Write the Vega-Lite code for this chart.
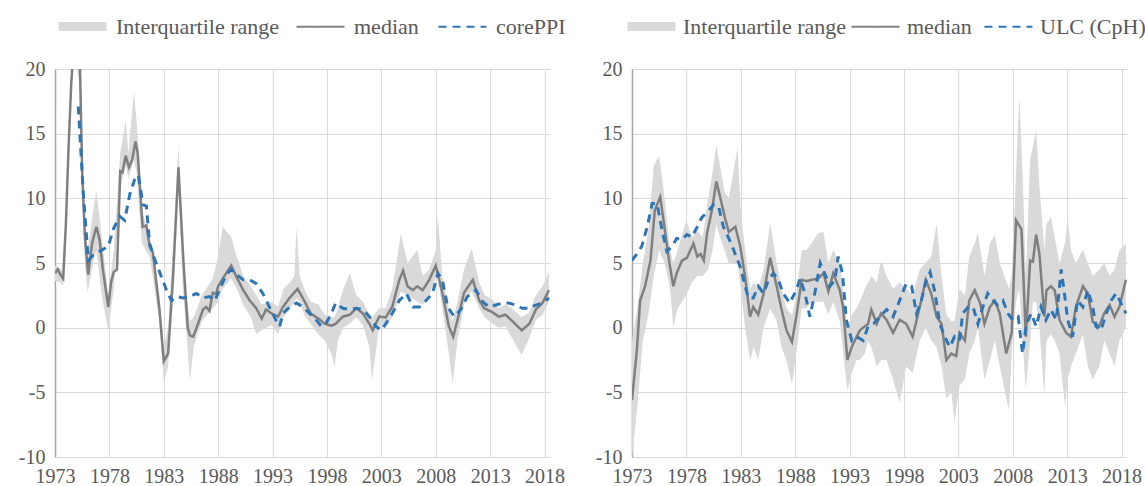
{
  "$schema": "https://vega.github.io/schema/vega-lite/v6.json",
  "padding": {"left": 18, "top": 1, "right": 5, "bottom": 0},
  "config": {
    "font": "Liberation Serif",
    "view": {"stroke": null},
    "axis": {"grid": true, "gridColor": "#d9d9d9", "gridWidth": 1, "labelFont": "Liberation Serif", "labelFontSize": 20, "labelColor": "#595959", "ticks": false, "domain": false, "title": null, "labelFlush": false},
    "legend": {"orient": "none", "direction": "horizontal", "symbolType": "stroke", "symbolStrokeWidth": 2.2, "labelFont": "Liberation Serif", "labelFontSize": 22, "labelColor": "#595959", "labelLimit": 0, "title": null, "symbolSize": 2300, "columnPadding": 15, "labelOffset": 8}
  },
  "resolve": {"scale": {"fill": "independent", "stroke": "independent", "strokeDash": "independent"}, "legend": {"fill": "independent", "stroke": "independent", "strokeDash": "independent"}},
  "spacing": 29,
  "hconcat": [
    {
      "width": 495,
      "height": 388,
      "layer": [
        {
          "data": {"values": [
            {"t":1973.0,"lo":3.6,"hi":4.8},{"t":1973.5,"lo":3.5,"hi":4.6},{"t":1973.75,"lo":3.2,"hi":4.3},{"t":1974.0,"lo":7,"hi":9},{"t":1974.5,"lo":18,"hi":20},{"t":1974.75,"lo":21,"hi":23},{"t":1975.25,"lo":19,"hi":22},{"t":1975.5,"lo":10,"hi":13},{"t":1975.75,"lo":5,"hi":8},{"t":1976.0,"lo":2.7,"hi":6},{"t":1976.5,"lo":5,"hi":9},{"t":1976.8,"lo":6,"hi":10.6},{"t":1977.3,"lo":2.5,"hi":7},{"t":1977.9,"lo":-0.3,"hi":2.5},{"t":1978.4,"lo":3,"hi":6},{"t":1979.0,"lo":11,"hi":13.5},{"t":1979.5,"lo":12.5,"hi":16},{"t":1979.75,"lo":11.5,"hi":13.5},{"t":1980.25,"lo":13,"hi":18.2},{"t":1980.5,"lo":12,"hi":16},{"t":1980.75,"lo":9,"hi":13},{"t":1981.0,"lo":6.5,"hi":9},{"t":1981.7,"lo":5.5,"hi":7},{"t":1982.6,"lo":0.5,"hi":2.5},{"t":1983.0,"lo":-4.2,"hi":-1.5},{"t":1983.4,"lo":-3,"hi":0},{"t":1983.75,"lo":2,"hi":5},{"t":1984.35,"lo":11,"hi":14.1},{"t":1984.75,"lo":3,"hi":6},{"t":1985.0,"lo":0.5,"hi":3},{"t":1985.4,"lo":-4.1,"hi":0.5},{"t":1985.75,"lo":-1.5,"hi":0.8},{"t":1986.5,"lo":0.5,"hi":2.5},{"t":1987.5,"lo":1.5,"hi":3.8},{"t":1988.0,"lo":2,"hi":5.5},{"t":1988.4,"lo":3,"hi":7.8},{"t":1989.2,"lo":3.8,"hi":7},{"t":1989.7,"lo":3,"hi":5.5},{"t":1990.3,"lo":1.8,"hi":4},{"t":1991.0,"lo":0.8,"hi":3.2},{"t":1991.5,"lo":-0.5,"hi":2.5},{"t":1992.0,"lo":-0.2,"hi":1.8},{"t":1992.9,"lo":0.2,"hi":2},{"t":1993.5,"lo":-0.5,"hi":1.6},{"t":1994.0,"lo":0.8,"hi":3},{"t":1994.6,"lo":1.5,"hi":3.5},{"t":1995.0,"lo":2,"hi":4},{"t":1995.2,"lo":2.3,"hi":7.8},{"t":1995.5,"lo":2,"hi":4},{"t":1995.9,"lo":1,"hi":3},{"t":1996.5,"lo":0.3,"hi":2},{"t":1997.2,"lo":-0.5,"hi":1.8},{"t":1997.8,"lo":-1,"hi":1},{"t":1998.4,"lo":-2,"hi":0.8},{"t":1998.7,"lo":-3,"hi":0.8},{"t":1999.0,"lo":-1,"hi":1.5},{"t":1999.5,"lo":0,"hi":3},{"t":2000.1,"lo":0.3,"hi":4.2},{"t":2000.7,"lo":0.8,"hi":2.5},{"t":2001.3,"lo":0.2,"hi":2},{"t":2001.9,"lo":-1.5,"hi":1},{"t":2002.15,"lo":-4,"hi":0.8},{"t":2002.8,"lo":0.1,"hi":1.5},{"t":2003.4,"lo":0,"hi":1.5},{"t":2004.0,"lo":0.8,"hi":3},{"t":2004.8,"lo":2.8,"hi":7.3},{"t":2005.4,"lo":2.5,"hi":5},{"t":2006.3,"lo":2,"hi":6},{"t":2006.8,"lo":1.8,"hi":4},{"t":2007.4,"lo":2.5,"hi":4.5},{"t":2008.0,"lo":3.8,"hi":6},{"t":2008.2,"lo":3.8,"hi":8.6},{"t":2008.6,"lo":1.5,"hi":4},{"t":2009.2,"lo":-2,"hi":1.5},{"t":2009.55,"lo":-4.3,"hi":0.5},{"t":2010.0,"lo":-1,"hi":2},{"t":2010.6,"lo":1.8,"hi":4.5},{"t":2011.3,"lo":2.8,"hi":6.1},{"t":2012.0,"lo":1.5,"hi":3.5},{"t":2012.5,"lo":0.8,"hi":2.5},{"t":2013.2,"lo":0.3,"hi":2.2},{"t":2013.8,"lo":0,"hi":1.5},{"t":2014.4,"lo":0.1,"hi":1.8},{"t":2015.0,"lo":-0.8,"hi":1.5},{"t":2015.9,"lo":-2.1,"hi":0.8},{"t":2016.6,"lo":-0.8,"hi":1.2},{"t":2017.2,"lo":0.6,"hi":2.5},{"t":2017.8,"lo":1,"hi":3.2},{"t":2018.4,"lo":2,"hi":4.3}
          ]},
          "mark": {"type": "area", "clip": true},
          "encoding": {
            "x": {"field": "t", "type": "quantitative", "scale": {"domain": [1973, 2018.5], "nice": false, "zero": false}, "axis": {"values": [1973,1978,1983,1988,1993,1998,2003,2008,2013,2018], "format": "d", "labelPadding": 9}},
            "y": {"field": "lo", "type": "quantitative", "scale": {"domain": [-10, 20], "nice": false}, "axis": {"values": [-10,-5,0,5,10,15,20], "labelExpr": "'' + datum.value", "labelPadding": 10, "domain": true, "domainColor": "#a6a6a6", "domainWidth": 1.5}},
            "y2": {"field": "hi"},
            "fill": {"datum": "Interquartile range", "scale": {"domain": ["Interquartile range"], "range": ["#d9d9d9"]}, "legend": {"legendX": 2, "legendY": -68, "symbolType": "M-1,-0.19H1V0.19H-1Z"}}
          }
        },
        {
          "data": {"values": [
            {"t":1973.0,"v":4.2},{"t":1973.25,"v":4.5},{"t":1973.5,"v":4.1},{"t":1973.75,"v":3.8},{"t":1974.0,"v":8},{"t":1974.25,"v":14},{"t":1974.5,"v":19},{"t":1974.75,"v":22},{"t":1975.25,"v":22},{"t":1975.5,"v":12},{"t":1975.75,"v":7},{"t":1976.05,"v":4.1},{"t":1976.4,"v":6.5},{"t":1976.8,"v":7.8},{"t":1977.1,"v":6.8},{"t":1977.4,"v":4.5},{"t":1977.9,"v":1.6},{"t":1978.15,"v":3.5},{"t":1978.4,"v":4.3},{"t":1978.7,"v":4.5},{"t":1979.0,"v":12.1},{"t":1979.2,"v":12.0},{"t":1979.5,"v":13.3},{"t":1979.8,"v":12.4},{"t":1980.1,"v":13.0},{"t":1980.4,"v":14.4},{"t":1980.6,"v":13.5},{"t":1981.05,"v":7.8},{"t":1981.4,"v":7.9},{"t":1981.7,"v":6.3},{"t":1982.0,"v":5.8},{"t":1982.6,"v":1.4},{"t":1983.0,"v":-2.6},{"t":1983.4,"v":-2.0},{"t":1983.85,"v":3.9},{"t":1984.35,"v":12.4},{"t":1984.8,"v":5.2},{"t":1985.2,"v":0},{"t":1985.4,"v":-0.6},{"t":1985.7,"v":-0.7},{"t":1986.15,"v":0.3},{"t":1986.6,"v":1.4},{"t":1986.9,"v":1.6},{"t":1987.2,"v":1.3},{"t":1987.5,"v":2.7},{"t":1987.8,"v":2.6},{"t":1988.0,"v":3.2},{"t":1988.5,"v":3.9},{"t":1989.2,"v":4.8},{"t":1989.7,"v":3.9},{"t":1990.3,"v":2.9},{"t":1990.9,"v":2.1},{"t":1991.5,"v":1.5},{"t":1992.0,"v":0.7},{"t":1992.4,"v":1.4},{"t":1992.9,"v":1.1},{"t":1993.5,"v":0.85},{"t":1993.95,"v":1.6},{"t":1994.56,"v":2.3},{"t":1995.3,"v":3.0},{"t":1995.9,"v":2.1},{"t":1996.5,"v":1.1},{"t":1997.2,"v":0.7},{"t":1997.8,"v":0.3},{"t":1998.4,"v":0.15},{"t":1998.8,"v":0.3},{"t":1999.45,"v":0.85},{"t":2000.1,"v":1.0},{"t":2000.7,"v":1.5},{"t":2001.3,"v":1.1},{"t":2001.9,"v":0.3},{"t":2002.2,"v":-0.2},{"t":2002.8,"v":0.85},{"t":2003.4,"v":0.8},{"t":2004.0,"v":1.6},{"t":2004.65,"v":3.7},{"t":2005.0,"v":4.4},{"t":2005.4,"v":3.2},{"t":2005.9,"v":2.9},{"t":2006.3,"v":3.2},{"t":2006.8,"v":2.9},{"t":2007.4,"v":3.7},{"t":2008.0,"v":4.8},{"t":2008.6,"v":2.7},{"t":2009.2,"v":0.1},{"t":2009.6,"v":-0.7},{"t":2010.0,"v":0.6},{"t":2010.6,"v":2.7},{"t":2011.4,"v":3.7},{"t":2012.0,"v":2.1},{"t":2012.45,"v":1.5},{"t":2013.2,"v":1.2},{"t":2013.8,"v":0.85},{"t":2014.4,"v":1.0},{"t":2015.05,"v":0.5},{"t":2015.9,"v":-0.2},{"t":2016.6,"v":0.3},{"t":2017.2,"v":1.4},{"t":2017.8,"v":1.9},{"t":2018.4,"v":2.9}
          ]},
          "mark": {"type": "line", "clip": true, "strokeWidth": 2.5},
          "encoding": {
            "x": {"field": "t", "type": "quantitative"},
            "y": {"field": "v", "type": "quantitative"},
            "stroke": {"datum": "median", "scale": {"domain": ["median", "corePPI"], "range": ["#7f7f7f", "#2e75b6"]}, "legend": {"legendX": 240, "legendY": -68}},
            "strokeDash": {"datum": "median", "scale": {"domain": ["median", "corePPI"], "range": [[1,0],[8,6]]}, "legend": {"legendX": 240, "legendY": -68}}
          }
        },
        {
          "data": {"values": [
            {"t":1975.14,"v":17.1},{"t":1975.6,"v":10.4},{"t":1976.06,"v":5.2},{"t":1976.5,"v":5.6},{"t":1977.1,"v":5.9},{"t":1977.9,"v":6.3},{"t":1978.35,"v":7.6},{"t":1978.96,"v":8.6},{"t":1979.4,"v":8.3},{"t":1979.9,"v":10.4},{"t":1980.3,"v":11.4},{"t":1980.65,"v":11.8},{"t":1981.1,"v":9.5},{"t":1981.4,"v":9.4},{"t":1981.7,"v":6.5},{"t":1982.2,"v":5.2},{"t":1982.8,"v":3.9},{"t":1983.25,"v":2.9},{"t":1983.7,"v":2.1},{"t":1984.2,"v":2.4},{"t":1984.8,"v":2.3},{"t":1985.4,"v":2.4},{"t":1986.0,"v":2.65},{"t":1986.6,"v":2.3},{"t":1987.2,"v":2.4},{"t":1987.7,"v":2.1},{"t":1988.1,"v":2.9},{"t":1988.75,"v":4.1},{"t":1989.2,"v":4.5},{"t":1989.7,"v":4.1},{"t":1990.3,"v":3.7},{"t":1990.9,"v":3.7},{"t":1991.5,"v":3.4},{"t":1992.1,"v":2.65},{"t":1992.7,"v":1.6},{"t":1993.3,"v":0.6},{"t":1993.65,"v":0.1},{"t":1993.95,"v":1.1},{"t":1994.56,"v":1.6},{"t":1995.2,"v":1.9},{"t":1995.8,"v":1.6},{"t":1996.4,"v":1.1},{"t":1997.0,"v":0.6},{"t":1997.5,"v":0.1},{"t":1997.9,"v":0.3},{"t":1998.4,"v":1.1},{"t":1998.8,"v":1.9},{"t":1999.45,"v":1.5},{"t":2000.1,"v":1.4},{"t":2000.7,"v":1.5},{"t":2001.3,"v":1.4},{"t":2001.9,"v":0.85},{"t":2002.5,"v":0.1},{"t":2003.0,"v":-0.2},{"t":2003.4,"v":0.3},{"t":2004.0,"v":1.1},{"t":2004.65,"v":2.1},{"t":2005.3,"v":2.65},{"t":2005.9,"v":1.6},{"t":2006.5,"v":1.6},{"t":2007.1,"v":2.1},{"t":2007.7,"v":2.65},{"t":2008.2,"v":4.2},{"t":2008.6,"v":3.7},{"t":2009.1,"v":1.6},{"t":2009.7,"v":0.85},{"t":2010.3,"v":1.4},{"t":2010.9,"v":2.4},{"t":2011.7,"v":2.9},{"t":2012.3,"v":2.0},{"t":2012.9,"v":1.6},{"t":2013.5,"v":1.75},{"t":2014.1,"v":1.9},{"t":2014.7,"v":1.9},{"t":2015.35,"v":1.75},{"t":2015.95,"v":1.5},{"t":2016.6,"v":1.5},{"t":2017.2,"v":1.75},{"t":2017.8,"v":1.9},{"t":2018.4,"v":2.3}
          ]},
          "mark": {"type": "line", "clip": true, "strokeWidth": 3},
          "encoding": {
            "x": {"field": "t", "type": "quantitative"},
            "y": {"field": "v", "type": "quantitative"},
            "stroke": {"datum": "corePPI"},
            "strokeDash": {"datum": "corePPI"}
          }
        },
        {
          "mark": {"type": "rule", "color": "#8c8c8c", "strokeWidth": 1.5},
          "encoding": {"y": {"datum": 0}}
        }
      ]
    },
    {
      "width": 495,
      "height": 388,
      "layer": [
        {
          "data": {"values": [
            {"t":1973.0,"lo":-10,"hi":-1},{"t":1973.5,"lo":-6,"hi":1.5},{"t":1974.0,"lo":-1,"hi":5},{"t":1974.5,"lo":1,"hi":7.5},{"t":1975.0,"lo":4,"hi":12.5},{"t":1975.5,"lo":6,"hi":13.3},{"t":1976.0,"lo":5,"hi":10},{"t":1976.5,"lo":3,"hi":6},{"t":1976.8,"lo":0,"hi":5},{"t":1977.2,"lo":1.5,"hi":6},{"t":1978.0,"lo":2.5,"hi":8.3},{"t":1978.5,"lo":3.5,"hi":7},{"t":1979.0,"lo":4,"hi":7.5},{"t":1979.5,"lo":4,"hi":7},{"t":1980.0,"lo":4.5,"hi":10},{"t":1980.4,"lo":6,"hi":12},{"t":1980.75,"lo":8,"hi":14.1},{"t":1981.1,"lo":7,"hi":12.5},{"t":1981.5,"lo":6,"hi":10.5},{"t":1981.9,"lo":5,"hi":10},{"t":1982.7,"lo":5,"hi":13.9},{"t":1983.0,"lo":3,"hi":9},{"t":1983.4,"lo":0,"hi":6},{"t":1983.85,"lo":-2.5,"hi":3},{"t":1984.2,"lo":-1.5,"hi":3.5},{"t":1984.6,"lo":-2.5,"hi":3},{"t":1985.1,"lo":0,"hi":4.5},{"t":1985.7,"lo":1.5,"hi":8.1},{"t":1986.3,"lo":0.5,"hi":5},{"t":1986.75,"lo":-1.5,"hi":3},{"t":1987.2,"lo":-2.5,"hi":1.5},{"t":1987.7,"lo":-4.4,"hi":1},{"t":1988.1,"lo":-2,"hi":2.5},{"t":1988.6,"lo":1.5,"hi":6},{"t":1989.05,"lo":1.5,"hi":6},{"t":1989.5,"lo":2,"hi":6.5},{"t":1990.1,"lo":2,"hi":7.3},{"t":1990.6,"lo":2,"hi":7.4},{"t":1991.05,"lo":1,"hi":5},{"t":1991.5,"lo":2,"hi":6},{"t":1992.1,"lo":0.5,"hi":5},{"t":1992.8,"lo":-4.9,"hi":0},{"t":1993.2,"lo":-3.5,"hi":1},{"t":1993.65,"lo":-2.5,"hi":1.5},{"t":1993.95,"lo":-2.5,"hi":2},{"t":1994.4,"lo":-2,"hi":3},{"t":1994.7,"lo":-1,"hi":3.5},{"t":1995.0,"lo":-1.5,"hi":4},{"t":1995.5,"lo":-3,"hi":3.5},{"t":1995.9,"lo":-2.5,"hi":5.2},{"t":1996.4,"lo":-2.5,"hi":4},{"t":1997.0,"lo":-4,"hi":3},{"t":1997.6,"lo":-5.8,"hi":3.5},{"t":1998.2,"lo":-3,"hi":3},{"t":1998.8,"lo":-3.5,"hi":2.5},{"t":1999.45,"lo":-1,"hi":4.5},{"t":2000.0,"lo":0,"hi":5},{"t":2000.5,"lo":-1,"hi":5.5},{"t":2001.0,"lo":-1.5,"hi":8},{"t":2001.45,"lo":-3,"hi":4},{"t":2001.9,"lo":-5.5,"hi":1},{"t":2002.35,"lo":-5,"hi":0.5},{"t":2002.65,"lo":-7.3,"hi":0.5},{"t":2003.1,"lo":-4.5,"hi":3},{"t":2003.6,"lo":-4,"hi":2.5},{"t":2004.0,"lo":-2,"hi":5.5},{"t":2004.5,"lo":-1,"hi":6.5},{"t":2004.8,"lo":0,"hi":7.3},{"t":2005.4,"lo":-4,"hi":4},{"t":2005.9,"lo":-2.5,"hi":6.5},{"t":2006.35,"lo":-1,"hi":7.2},{"t":2006.8,"lo":-3,"hi":5},{"t":2007.65,"lo":-6.4,"hi":3},{"t":2007.9,"lo":-2,"hi":4},{"t":2008.3,"lo":2,"hi":12},{"t":2008.6,"lo":3,"hi":17.9},{"t":2008.9,"lo":-1,"hi":12},{"t":2009.2,"lo":-4.8,"hi":4},{"t":2009.6,"lo":-1,"hi":13},{"t":2009.85,"lo":2,"hi":14},{"t":2010.15,"lo":2,"hi":15.3},{"t":2010.45,"lo":0,"hi":11},{"t":2010.9,"lo":-5.3,"hi":6},{"t":2011.1,"lo":-1,"hi":8},{"t":2011.5,"lo":-0.5,"hi":8.6},{"t":2011.85,"lo":-1,"hi":7},{"t":2012.3,"lo":-2,"hi":5},{"t":2012.8,"lo":-6.1,"hi":6.5},{"t":2013.05,"lo":-4,"hi":8.6},{"t":2013.35,"lo":-3,"hi":6},{"t":2013.8,"lo":-2,"hi":5},{"t":2014.45,"lo":-0.5,"hi":6},{"t":2014.9,"lo":-3,"hi":5},{"t":2015.35,"lo":-4,"hi":4},{"t":2015.95,"lo":-3,"hi":4.5},{"t":2016.4,"lo":-1,"hi":5},{"t":2016.9,"lo":-2,"hi":4},{"t":2017.35,"lo":-3,"hi":4.5},{"t":2017.8,"lo":-1,"hi":6},{"t":2018.4,"lo":0,"hi":6.5}
          ]},
          "mark": {"type": "area", "clip": true},
          "encoding": {
            "x": {"field": "t", "type": "quantitative", "scale": {"domain": [1973, 2018.5], "nice": false, "zero": false}, "axis": {"values": [1973,1978,1983,1988,1993,1998,2003,2008,2013,2018], "format": "d", "labelPadding": 9}},
            "y": {"field": "lo", "type": "quantitative", "scale": {"domain": [-10, 20], "nice": false}, "axis": {"values": [-10,-5,0,5,10,15,20], "labelExpr": "'' + datum.value", "labelPadding": 10, "domain": true, "domainColor": "#a6a6a6", "domainWidth": 1.5}},
            "y2": {"field": "hi"},
            "fill": {"datum": "Interquartile range", "scale": {"domain": ["Interquartile range"], "range": ["#d9d9d9"]}, "legend": {"legendX": -6, "legendY": -68, "labelOffset": 6, "symbolType": "M-1,-0.19H1V0.19H-1Z"}}
          }
        },
        {
          "data": {"values": [
            {"t":1973.0,"v":-5.6},{"t":1973.45,"v":-1.7},{"t":1973.75,"v":2.1},{"t":1974.2,"v":3.2},{"t":1974.7,"v":5.2},{"t":1975.1,"v":9.1},{"t":1975.6,"v":10.1},{"t":1976.06,"v":7.3},{"t":1976.4,"v":5.2},{"t":1976.8,"v":3.2},{"t":1977.1,"v":4.2},{"t":1977.6,"v":5.2},{"t":1978.05,"v":5.4},{"t":1978.65,"v":6.5},{"t":1979.0,"v":5.5},{"t":1979.3,"v":5.7},{"t":1979.6,"v":5.2},{"t":1979.9,"v":7.3},{"t":1980.35,"v":9.1},{"t":1980.75,"v":11.3},{"t":1981.1,"v":10.1},{"t":1981.6,"v":8.3},{"t":1981.9,"v":7.4},{"t":1982.5,"v":7.8},{"t":1982.95,"v":6.3},{"t":1983.4,"v":3.9},{"t":1983.85,"v":0.85},{"t":1984.15,"v":1.6},{"t":1984.6,"v":1.0},{"t":1985.1,"v":2.65},{"t":1985.7,"v":5.4},{"t":1986.3,"v":3.2},{"t":1986.75,"v":1.4},{"t":1987.2,"v":-0.2},{"t":1987.7,"v":-1.1},{"t":1988.1,"v":0.85},{"t":1988.6,"v":3.7},{"t":1989.05,"v":3.6},{"t":1989.5,"v":3.7},{"t":1990.1,"v":3.8},{"t":1990.6,"v":4.2},{"t":1991.05,"v":2.8},{"t":1991.5,"v":4.2},{"t":1992.1,"v":2.9},{"t":1992.4,"v":1.6},{"t":1992.8,"v":-2.5},{"t":1993.2,"v":-1.5},{"t":1993.65,"v":-0.7},{"t":1993.95,"v":-0.2},{"t":1994.4,"v":0.1},{"t":1994.7,"v":0.3},{"t":1995.0,"v":1.4},{"t":1995.5,"v":0.3},{"t":1995.9,"v":1.1},{"t":1996.4,"v":0.6},{"t":1997.0,"v":-0.4},{"t":1997.6,"v":0.6},{"t":1998.2,"v":0.3},{"t":1998.8,"v":-0.7},{"t":1999.45,"v":1.6},{"t":2000.0,"v":3.7},{"t":2000.5,"v":2.65},{"t":2001.0,"v":0.85},{"t":2001.45,"v":0.3},{"t":2001.9,"v":-2.5},{"t":2002.35,"v":-2.0},{"t":2002.8,"v":-2.2},{"t":2003.1,"v":-0.4},{"t":2003.6,"v":-1.0},{"t":2004.0,"v":2.1},{"t":2004.5,"v":2.9},{"t":2005.0,"v":1.9},{"t":2005.4,"v":0.3},{"t":2005.9,"v":1.6},{"t":2006.35,"v":2.1},{"t":2006.8,"v":1.1},{"t":2007.4,"v":-2.0},{"t":2007.9,"v":-0.4},{"t":2008.3,"v":8.3},{"t":2008.8,"v":7.6},{"t":2009.2,"v":-0.7},{"t":2009.6,"v":5.2},{"t":2009.85,"v":5.1},{"t":2010.15,"v":7.2},{"t":2010.45,"v":5.7},{"t":2010.9,"v":0.85},{"t":2011.1,"v":2.9},{"t":2011.5,"v":3.2},{"t":2011.85,"v":2.9},{"t":2012.3,"v":0.6},{"t":2012.9,"v":-0.4},{"t":2013.35,"v":-0.7},{"t":2013.8,"v":1.6},{"t":2014.45,"v":3.2},{"t":2014.9,"v":2.65},{"t":2015.35,"v":0.45},{"t":2015.95,"v":0.1},{"t":2016.4,"v":1.1},{"t":2016.9,"v":1.75},{"t":2017.35,"v":0.85},{"t":2017.8,"v":1.6},{"t":2018.4,"v":3.7}
          ]},
          "mark": {"type": "line", "clip": true, "strokeWidth": 2.5},
          "encoding": {
            "x": {"field": "t", "type": "quantitative"},
            "y": {"field": "v", "type": "quantitative"},
            "stroke": {"datum": "median", "scale": {"domain": ["median", "ULC (CpH)"], "range": ["#7f7f7f", "#2e75b6"]}, "legend": {"legendX": 218, "legendY": -68, "columnPadding": 8, "labelOffset": 6}},
            "strokeDash": {"datum": "median", "scale": {"domain": ["median", "ULC (CpH)"], "range": [[1,0],[8,6]]}, "legend": {"legendX": 218, "legendY": -68, "columnPadding": 8, "labelOffset": 6}}
          }
        },
        {
          "data": {"values": [
            {"t":1973.0,"v":5.2},{"t":1973.45,"v":5.7},{"t":1973.9,"v":6.3},{"t":1974.4,"v":7.8},{"t":1974.85,"v":9.6},{"t":1975.3,"v":9.6},{"t":1975.75,"v":7.6},{"t":1976.2,"v":5.9},{"t":1976.7,"v":6.3},{"t":1977.1,"v":6.9},{"t":1977.6,"v":6.8},{"t":1978.05,"v":7.2},{"t":1978.5,"v":7.0},{"t":1979.0,"v":7.8},{"t":1979.4,"v":8.5},{"t":1980.0,"v":9.0},{"t":1980.5,"v":9.5},{"t":1980.95,"v":9.4},{"t":1981.4,"v":7.8},{"t":1981.9,"v":6.9},{"t":1982.3,"v":6.1},{"t":1982.95,"v":4.7},{"t":1983.4,"v":3.2},{"t":1983.7,"v":2.3},{"t":1984.15,"v":2.3},{"t":1984.6,"v":3.2},{"t":1985.1,"v":2.65},{"t":1985.55,"v":3.7},{"t":1986.0,"v":4.2},{"t":1986.45,"v":3.7},{"t":1986.9,"v":2.65},{"t":1987.5,"v":1.9},{"t":1988.1,"v":2.9},{"t":1988.45,"v":3.8},{"t":1988.9,"v":2.65},{"t":1989.35,"v":0.85},{"t":1989.8,"v":2.65},{"t":1990.3,"v":5.0},{"t":1990.7,"v":4.2},{"t":1991.2,"v":3.2},{"t":1991.65,"v":3.7},{"t":1991.95,"v":5.5},{"t":1992.35,"v":4.2},{"t":1992.7,"v":0.6},{"t":1993.2,"v":-1.0},{"t":1993.65,"v":-0.7},{"t":1994.25,"v":-1.0},{"t":1994.7,"v":0.1},{"t":1995.2,"v":0.3},{"t":1995.8,"v":0.85},{"t":1996.4,"v":1.4},{"t":1997.0,"v":0.85},{"t":1997.6,"v":2.1},{"t":1998.2,"v":3.4},{"t":1998.7,"v":3.2},{"t":1999.15,"v":1.1},{"t":1999.6,"v":2.1},{"t":2000.05,"v":3.7},{"t":2000.4,"v":4.3},{"t":2000.8,"v":2.9},{"t":2001.3,"v":0.3},{"t":2001.75,"v":-0.7},{"t":2002.2,"v":-1.5},{"t":2002.65,"v":-0.7},{"t":2003.1,"v":-1.0},{"t":2003.4,"v":1.1},{"t":2003.9,"v":1.6},{"t":2004.35,"v":1.6},{"t":2004.8,"v":0.3},{"t":2005.25,"v":1.6},{"t":2005.7,"v":2.65},{"t":2006.2,"v":2.1},{"t":2006.6,"v":1.75},{"t":2007.1,"v":2.1},{"t":2007.55,"v":1.1},{"t":2008.0,"v":0.6},{"t":2008.5,"v":0.85},{"t":2008.9,"v":-2.0},{"t":2009.25,"v":0.3},{"t":2009.7,"v":1.1},{"t":2010.15,"v":0.1},{"t":2010.6,"v":1.6},{"t":2011.05,"v":0.6},{"t":2011.5,"v":1.4},{"t":2012.0,"v":0.6},{"t":2012.45,"v":4.5},{"t":2012.75,"v":2.65},{"t":2013.05,"v":0.6},{"t":2013.5,"v":-0.7},{"t":2013.95,"v":2.1},{"t":2014.45,"v":1.6},{"t":2014.9,"v":2.9},{"t":2015.35,"v":1.6},{"t":2015.65,"v":0.1},{"t":2016.1,"v":-0.2},{"t":2016.6,"v":1.1},{"t":2017.05,"v":2.1},{"t":2017.5,"v":2.65},{"t":2017.95,"v":1.9},{"t":2018.4,"v":1.1}
          ]},
          "mark": {"type": "line", "clip": true, "strokeWidth": 3},
          "encoding": {
            "x": {"field": "t", "type": "quantitative"},
            "y": {"field": "v", "type": "quantitative"},
            "stroke": {"datum": "ULC (CpH)"},
            "strokeDash": {"datum": "ULC (CpH)"}
          }
        },
        {
          "mark": {"type": "rule", "color": "#8c8c8c", "strokeWidth": 1.5},
          "encoding": {"y": {"datum": 0}}
        }
      ]
    }
  ]
}
